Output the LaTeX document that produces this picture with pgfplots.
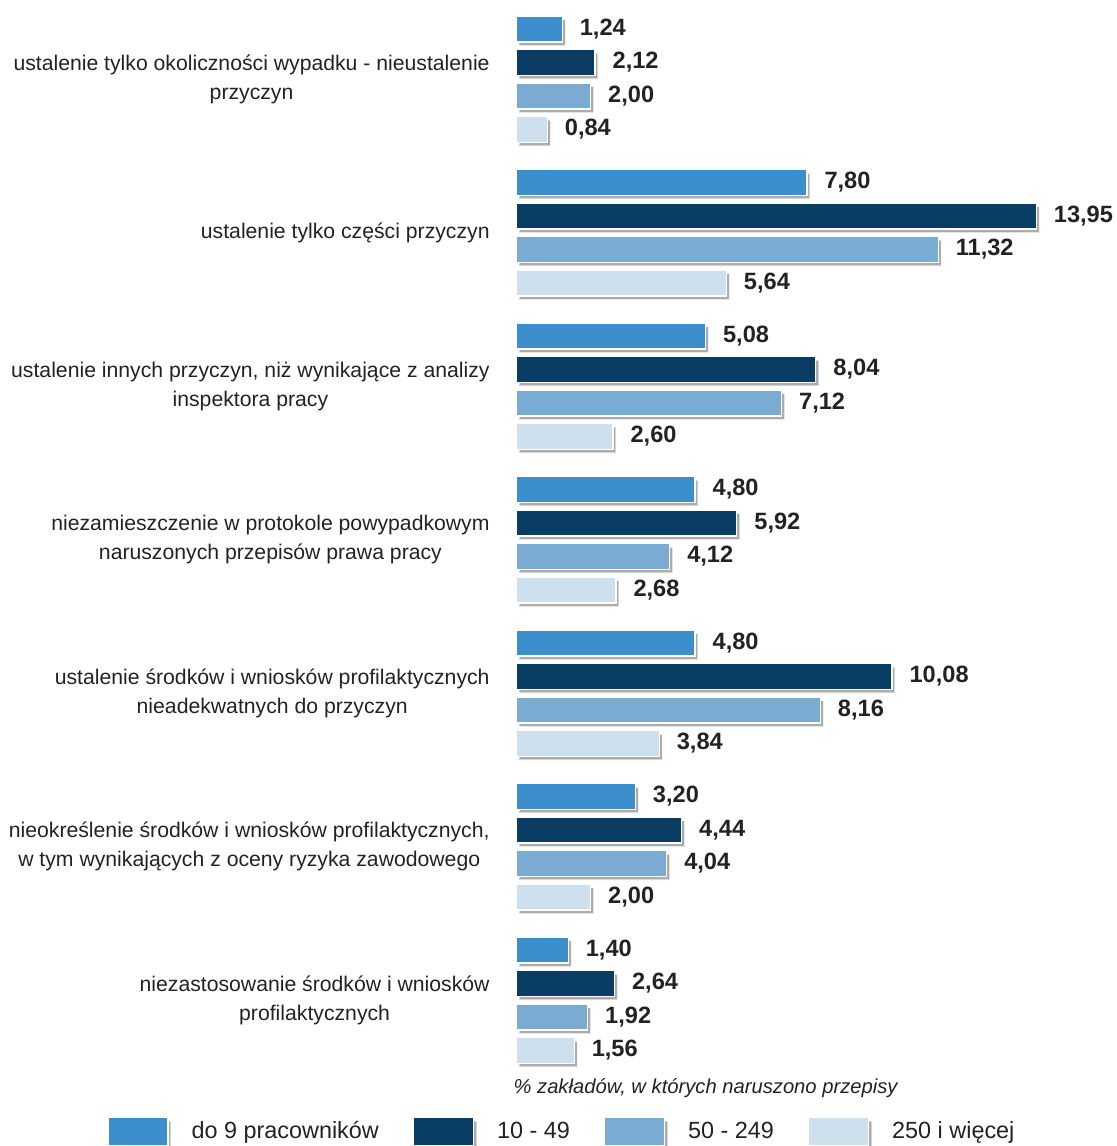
\documentclass[border=0pt]{standalone}
\usepackage{fontspec}
\setmainfont{Liberation Sans}
\usepackage{pgfplots}
\pgfplotsset{compat=1.18}
\usetikzlibrary{shadows}
\definecolor{cA}{HTML}{3D8ECC}
\definecolor{cB}{HTML}{0A3D63}
\definecolor{cC}{HTML}{7AACD3}
\definecolor{cD}{HTML}{CEE0EE}
\definecolor{tx}{HTML}{222222}
\tikzset{barshadow/.style={drop shadow={shadow xshift=1.5pt, shadow yshift=-1.8pt, opacity=0.5, fill=black!65}}}
\begin{document}
\begin{tikzpicture}
\useasboundingbox (0,0) rectangle (558.5pt,573pt);
\begin{axis}[
  at={(258pt,567.9pt)}, anchor=north west,
  scale only axis, width=279.75pt, height=529.6pt,
  xbar, xmin=0, xmax=15, ymin=-0.45, ymax=6.45, y dir=reverse,
  bar width=0.168,
  axis line style={draw=none}, xtick=\empty, ytick={0,...,6},
  major tick length=0pt,
  yticklabels={
    {ustalenie tylko okoliczności wypadku - nieustalenie\\przyczyn},
    {ustalenie tylko części przyczyn},
    {ustalenie innych przyczyn, niż wynikające z analizy\\inspektora pracy},
    {niezamieszczenie w protokole powypadkowym\\naruszonych przepisów prawa pracy},
    {ustalenie środków i wniosków profilaktycznych\\nieadekwatnych do przyczyn},
    {nieokreślenie środków i wniosków profilaktycznych,\\w tym wynikających z oceny ryzyka zawodowego},
    {niezastosowanie środków i wniosków\\profilaktycznych}},
  yticklabel style={align=center, anchor=east, inner sep=0pt, xshift=-13pt,
    font=\fontsize{10.6}{14.5}\selectfont, text=tx},
  point meta=x,
  nodes near coords={\pgfmathprintnumber[fixed,fixed zerofill,precision=2,use comma,assume math mode=true]{\pgfplotspointmeta}},
  every node near coord/.append style={font=\bfseries\fontsize{11.8}{13}\selectfont, text=tx, inner sep=0pt, xshift=8.5pt},
  clip=false,
  legend columns=4,
  legend style={at={(-0.731,-0.0589)}, anchor=west, draw=none, fill=none, inner sep=0pt,
    font=\fontsize{11.7}{13}\selectfont, text=tx,
    nodes={inner sep=0pt},
    /tikz/every odd column/.append style={column sep=11.5pt},
    /tikz/every even column/.append style={column sep=17pt}},
  legend image code/.code={\draw[#1] (0pt,-7pt) rectangle (30pt,7pt);},
]
\addplot[fill=cA, draw=white, line width=0.6pt, bar shift=-0.3273, barshadow] coordinates
  {(1.24,0) (7.80,1) (5.08,2) (4.80,3) (4.80,4) (3.20,5) (1.40,6)};
\addplot[fill=cB, draw=white, line width=0.6pt, bar shift=-0.1091, barshadow] coordinates
  {(2.12,0) (13.95,1) (8.04,2) (5.92,3) (10.08,4) (4.44,5) (2.64,6)};
\addplot[fill=cC, draw=white, line width=0.6pt, bar shift=0.1091, barshadow] coordinates
  {(2.00,0) (11.32,1) (7.12,2) (4.12,3) (8.16,4) (4.04,5) (1.92,6)};
\addplot[fill=cD, draw=white, line width=0.6pt, bar shift=0.3273, barshadow] coordinates
  {(0.84,0) (5.64,1) (2.60,2) (2.68,3) (3.84,4) (2.00,5) (1.56,6)};
\legend{do 9 pracowników, 10 - 49, 50 - 249, 250 i więcej}
\node[anchor=west, inner sep=0pt, font=\itshape\fontsize{10.1}{12}\selectfont, text=tx]
  at (axis description cs:-0.005,-0.0174) {\% zakładów, w których naruszono przepisy};
\end{axis}
\end{tikzpicture}
\end{document}
